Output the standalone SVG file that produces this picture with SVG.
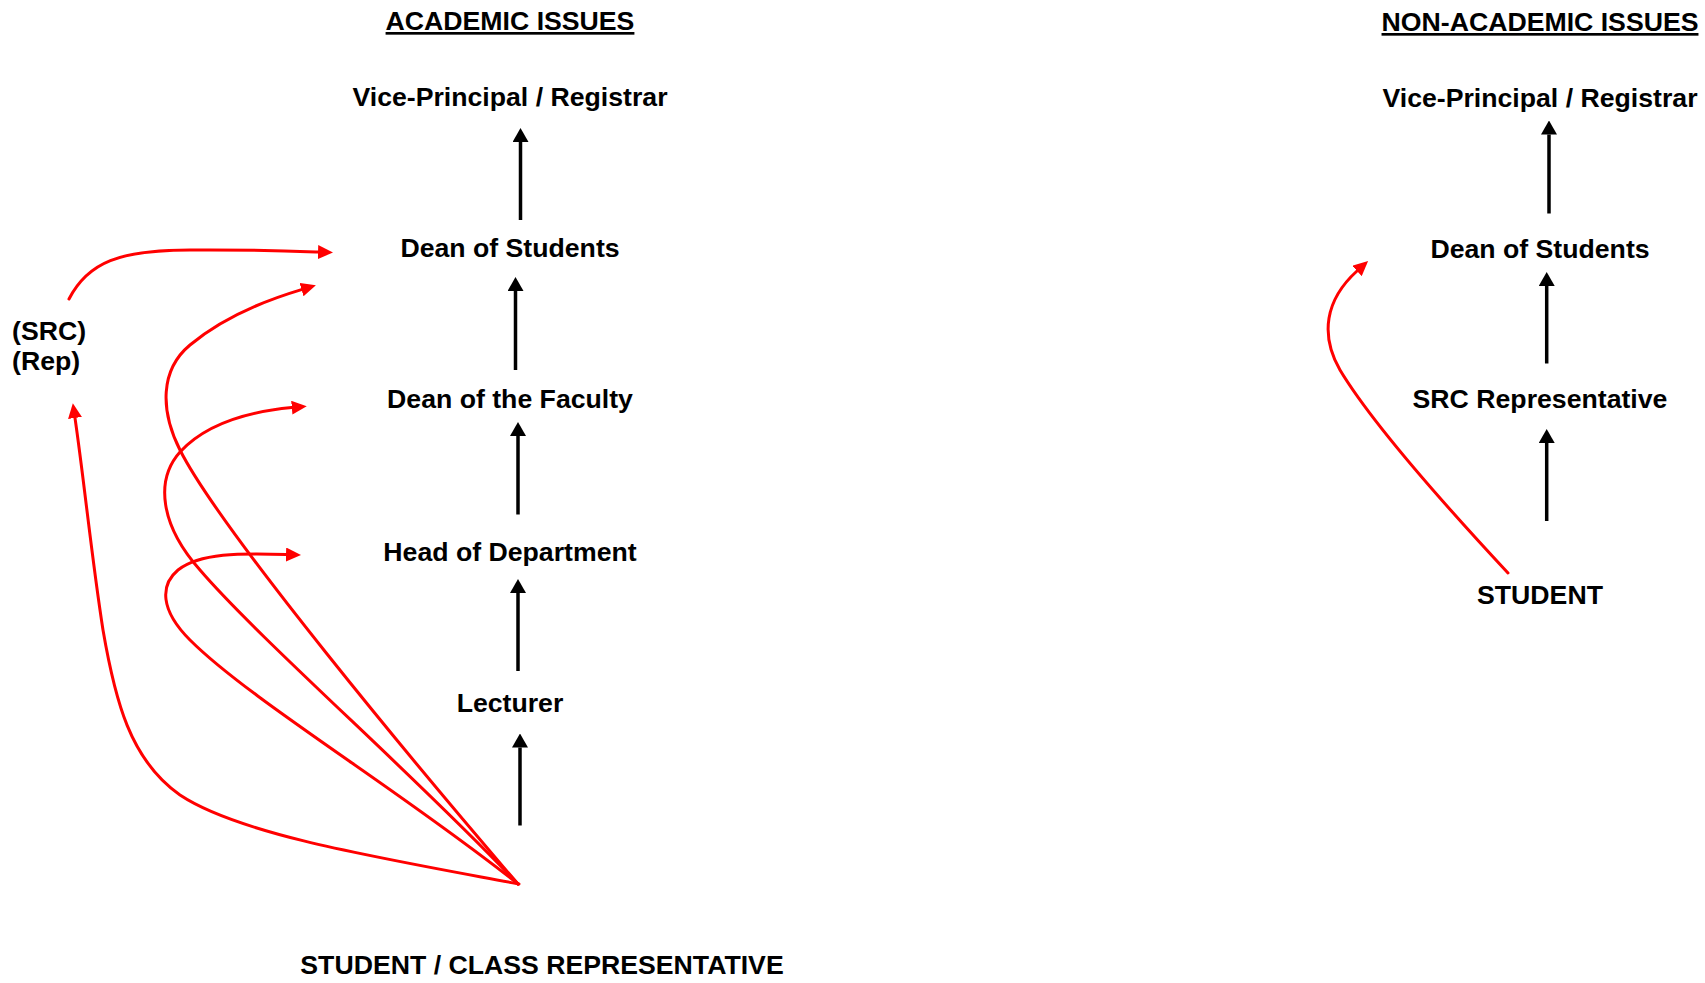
<svg xmlns="http://www.w3.org/2000/svg" width="1705" height="983" viewBox="0 0 1705 983">
<style>
  text { font-family: "Liberation Sans", Arial, sans-serif; font-weight: bold; font-size: 26.67px; fill: #000; }
  .mid { text-anchor: middle; }
  .hdr { text-decoration: underline; }
  .blk { stroke: #000; stroke-width: 3.5; fill: none; }
  .red { stroke: #ff0000; stroke-width: 3; fill: none; stroke-linecap: round; }
</style>
<defs>
  <marker id="ahB" viewBox="0 0 14 16" refX="0" refY="8" markerWidth="14" markerHeight="16" markerUnits="userSpaceOnUse" orient="auto">
    <path d="M0,0 L14,8 L0,16 z" fill="#000"/>
  </marker>
  <marker id="ahR" viewBox="0 0 15 14" refX="0" refY="7" markerWidth="15" markerHeight="14" markerUnits="userSpaceOnUse" orient="auto">
    <path d="M0,0 L15,7 L0,14 z" fill="#ff0000"/>
  </marker>
</defs>
<rect width="1705" height="983" fill="#fff"/>

<g id="header-academic"><text class="mid hdr" x="510" y="30">ACADEMIC ISSUES</text></g>
<g id="header-nonacademic"><text class="mid hdr" x="1540" y="31">NON-ACADEMIC ISSUES</text></g>

<g id="a-vp"><text class="mid" x="510" y="106">Vice-Principal / Registrar</text></g>
<g id="a-dos"><text class="mid" x="510" y="257">Dean of Students</text></g>
<g id="a-dof"><text class="mid" x="510" y="408">Dean of the Faculty</text></g>
<g id="a-hod"><text class="mid" x="510" y="560.5">Head of Department</text></g>
<g id="a-lect"><text class="mid" x="510" y="711.5">Lecturer</text></g>
<g id="a-student"><text class="mid" x="542" y="974">STUDENT / CLASS REPRESENTATIVE</text></g>
<g id="a-src"><text x="12" y="340">(SRC)</text><text x="12" y="370">(Rep)</text></g>

<g id="n-vp"><text class="mid" x="1540" y="106.7">Vice-Principal / Registrar</text></g>
<g id="n-dos"><text class="mid" x="1540" y="257.7">Dean of Students</text></g>
<g id="n-src"><text class="mid" x="1540" y="408">SRC Representative</text></g>
<g id="n-student"><text class="mid" x="1540" y="604">STUDENT</text></g>

<g id="connectors">
  <line class="blk" x1="520.5" y1="220" x2="520.5" y2="142" marker-end="url(#ahB)"/>
  <line class="blk" x1="515.5" y1="370" x2="515.5" y2="291" marker-end="url(#ahB)"/>
  <line class="blk" x1="518" y1="514.5" x2="518" y2="436" marker-end="url(#ahB)"/>
  <line class="blk" x1="518" y1="671" x2="518" y2="593" marker-end="url(#ahB)"/>
  <line class="blk" x1="520" y1="825.5" x2="520" y2="747.5" marker-end="url(#ahB)"/>

  <line class="blk" x1="1549" y1="213.5" x2="1549" y2="134.5" marker-end="url(#ahB)"/>
  <line class="blk" x1="1546.7" y1="363.5" x2="1546.7" y2="286" marker-end="url(#ahB)"/>
  <line class="blk" x1="1546.7" y1="521" x2="1546.7" y2="443" marker-end="url(#ahB)"/>

  <path class="red" d="M519,884 C380,858 240,835 180,795 C130,760 115,700 103,630 C92,560 84,480 75,418" marker-end="url(#ahR)"/>
  <path class="red" d="M69,299 C88,262 120,250 190,250 C250,249.5 290,251 318,252" marker-end="url(#ahR)"/>
  <path class="red" d="M518,884 C420,770 220,530 180,450 C160,410 160,370 190,345 C220,320 260,302 301.5,289.6" marker-end="url(#ahR)"/>
  <path class="red" d="M518,884 C420,780 260,640 200,570 C160,525 155,480 180,452 C205,425 245,412 291.8,407.6" marker-end="url(#ahR)"/>
  <path class="red" d="M518,884 C400,790 250,700 190,640 C160,610 160,585 178,570 C200,553 240,553 286,554.5" marker-end="url(#ahR)"/>
  <path class="red" d="M1508,573 C1440,500 1370,420 1340,370 C1320,335 1325,300 1357,271" marker-end="url(#ahR)"/>
</g>
</svg>
